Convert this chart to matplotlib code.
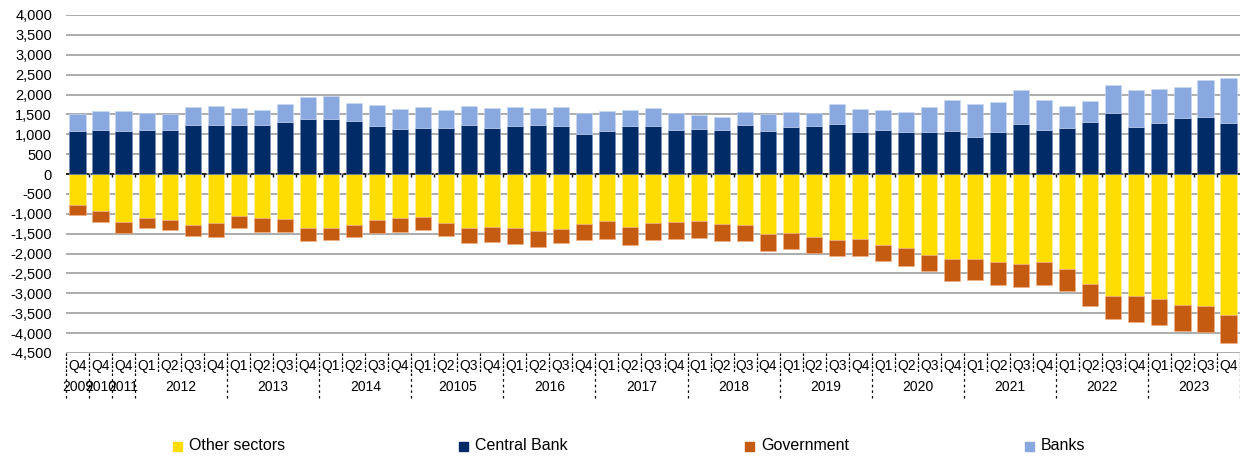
import matplotlib.pyplot as plt
from matplotlib.patches import Rectangle
from matplotlib.ticker import FuncFormatter, MultipleLocator
import matplotlib.transforms as mtransforms
import numpy as np

plt.rcParams['font.family'] = ['Liberation Sans', 'DejaVu Sans']

# quarterly series, 2009 Q4 .. 2023 Q4
quarters = ["Q4", "Q4", "Q4"] + ["Q1", "Q2", "Q3", "Q4"] * 12
years = ["2009", "2010", "2011", "2012", "2013", "2014", "20105", "2016",
         "2017", "2018", "2019", "2020", "2021", "2022", "2023"]
year_sizes = [1, 1, 1] + [4] * 12

other_sectors = [-790, -940, -1215, -1115, -1155, -1275, -1235, -1050, -1115, -1130,
                 -1365, -1350, -1275, -1155, -1115, -1080, -1225, -1350, -1335, -1350,
                 -1435, -1375, -1265, -1180, -1340, -1225, -1205, -1190, -1250, -1275,
                 -1510, -1475, -1575, -1650, -1635, -1785, -1870, -2040, -2145, -2140,
                 -2205, -2265, -2205, -2375, -2760, -3060, -3070, -3135, -3285, -3310,
                 -3540]
government = [-250, -260, -255, -250, -255, -285, -340, -315, -330, -330,
              -320, -320, -320, -315, -330, -335, -335, -380, -375, -405,
              -395, -370, -385, -465, -455, -425, -440, -430, -430, -420,
              -420, -420, -420, -415, -420, -395, -435, -410, -540, -520,
              -580, -570, -585, -570, -570, -580, -645, -655, -665, -665,
              -705]
central_bank = [1080, 1105, 1080, 1105, 1105, 1235, 1235, 1235, 1235, 1310,
                1390, 1390, 1335, 1200, 1140, 1160, 1165, 1235, 1165, 1200,
                1225, 1200, 1015, 1090, 1200, 1200, 1100, 1130, 1115, 1225,
                1090, 1175, 1210, 1260, 1060, 1105, 1065, 1065, 1080, 940,
                1065, 1260, 1115, 1155, 1310, 1535, 1180, 1285, 1410, 1425,
                1285]
banks = [440, 490, 495, 430, 410, 450, 470, 425, 365, 445,
         540, 565, 460, 535, 485, 515, 435, 485, 485, 475,
         425, 475, 530, 485, 400, 450, 425, 355, 310, 345,
         425, 375, 315, 500, 575, 505, 485, 630, 775, 830,
         755, 855, 745, 555, 525, 705, 935, 860, 785, 940,
         1130]

series_names = ["Other sectors", "Central Bank", "Government", "Banks"]
c_other = '#FFDD00'
c_cb = '#002B66'
c_gov = '#C55A11'
c_banks = '#8AA8E0'

x = np.arange(len(quarters))
w = 0.7

W, H = 1240, 459
fig = plt.figure(figsize=(W / 100, H / 100), dpi=100)
ax = fig.add_axes([66 / W, 1 - 353 / H, 1 - 66 / W, 338 / H])

ax.bar(x, other_sectors, w, color=c_other, edgecolor='#FFF2A0', linewidth=0.4, zorder=3)
ax.bar(x, government, w, bottom=other_sectors, color=c_gov, edgecolor='#F4B183', linewidth=0.4, zorder=3)
ax.bar(x, central_bank, w, color=c_cb, edgecolor='#6F8BBF', linewidth=0.4, zorder=3)
ax.bar(x, banks, w, bottom=central_bank, color=c_banks, edgecolor='#C9D7F2', linewidth=0.4, zorder=3)

ax.set_xlim(-0.5, len(x) - 0.5)
ax.set_ylim(-4500, 4000)
ax.yaxis.set_major_locator(MultipleLocator(500))
ax.yaxis.set_major_formatter(FuncFormatter(lambda v, p: f"{v:,.0f}"))
ax.grid(axis='y', color='#A6A6A6', linewidth=1.3, zorder=0)
ax.set_axisbelow(True)
for s in ['top', 'right', 'left', 'bottom']:
    ax.spines[s].set_visible(False)
ax.tick_params(axis='y', length=0, labelsize=10.5, pad=10)
ax.tick_params(axis='x', length=0, labelbottom=False)

# category axis crossing at zero
ax.axhline(0, color='black', linewidth=1.1, linestyle=(0, (4, 1.5)), zorder=2)
ax.vlines(x[:-1] + 0.5, -70, 0, color='black', linewidth=1, zorder=2)

# two-level category labels below the plot
trans = mtransforms.blended_transform_factory(ax.transData, ax.transAxes)
for i, q in enumerate(quarters):
    ax.text(i, -0.038, q, transform=trans, ha='center', va='center', fontsize=10)

edges = np.concatenate([[0], np.cumsum(year_sizes)]) - 0.5
for i in range(len(quarters) + 1):
    ax.plot([i - 0.5, i - 0.5], [0, -0.06], transform=trans, color='black',
            linewidth=0.9, linestyle=(0, (2, 1.2)), clip_on=False)
for e in edges:
    ax.plot([e, e], [-0.06, -0.135], transform=trans, color='black',
            linewidth=0.9, linestyle=(0, (2, 2.5)), clip_on=False)
for k, yl in enumerate(years):
    mid = (edges[k] + edges[k + 1]) / 2
    ax.text(mid, -0.10, yl, transform=trans, ha='center', va='center', fontsize=10)

# legend row along the bottom
legend_x = [173, 459, 745, 1025]
legend_colors = [c_other, c_cb, c_gov, c_banks]
for lx, name, col in zip(legend_x, series_names, legend_colors):
    fig.add_artist(Rectangle((lx / W, 1 - 450.5 / H), 9 / W, 9 / H,
                             transform=fig.transFigure, color=col))
    fig.text((lx + 16) / W, 1 - 446 / H, name, ha='left', va='center', fontsize=11.5)

fig.savefig('out.png', dpi=100)
